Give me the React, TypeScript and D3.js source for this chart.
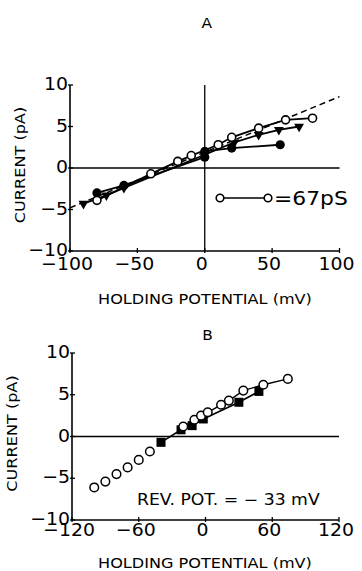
import React, { useEffect, useRef } from 'react';
import * as d3 from 'd3';

type Pt = [number, number];

// Panel A: current (pA) vs holding potential (mV)
const aOpenCircles: Pt[] = [[-80, -3.9], [-40, -0.7], [-20, 0.8], [-10, 1.5], [10, 2.8], [20, 3.7], [40, 4.8], [60, 5.8], [80, 6.0]];
const aFilledCircles: Pt[] = [[-80, -3.0], [-60, -2.1], [0, 1.3], [0, 2.0], [20, 2.4], [56, 2.8]];
const aTriangles: Pt[] = [[-90, -4.3], [-73, -3.3], [-60, -2.4], [0, 1.6], [22, 3.1], [40, 4.0], [55, 4.6], [70, 5.0]];
const aFitLine: Pt[] = [[-100, -4.8], [100, 8.6]];
const aXTicks = [-100, -50, 0, 50, 100];
const aYTicks = [-10, -5, 0, 5, 10];

// Panel B
const bOpenScattered: Pt[] = [[-100, -6.1], [-90, -5.4], [-80, -4.5], [-70, -3.7], [-60, -2.8], [-50, -1.8]];
const bOpenJoined: Pt[] = [[-20, 1.2], [-10, 2.0], [-4, 2.5], [2, 2.9], [14, 3.8], [21, 4.3], [34, 5.5], [52, 6.2], [74, 6.9]];
const bSquares: Pt[] = [[-40, -0.7], [-22, 0.8], [-12, 1.3], [-2, 2.1], [30, 4.1], [48, 5.4]];
const bXTicks = [-120, -60, 0, 60, 120];
const bYTicks = [-10, -5, 0, 5, 10];

const FONT = 'DejaVu Sans, Liberation Sans, sans-serif';
const STRETCH = 1.15; // the original lettering is wider than DejaVu
const fmt = (v: number) => (v < 0 ? '\u2212' + Math.abs(v) : String(v));

type G = d3.Selection<SVGGElement, unknown, null, undefined>;

// text stretched horizontally (optionally rotated) around its anchor point
function wideText(g: G, x: number, y: number, str: string, size: number, anchor = 'middle', rot = 0, sx = STRETCH) {
  return g.append('text')
    .attr('transform', `translate(${x},${y}) rotate(${rot}) scale(${sx},1)`)
    .attr('text-anchor', anchor)
    .attr('font-size', size)
    .text(str);
}

interface PanelCfg {
  title: string;
  titleY: number;
  xDomain: [number, number];
  xRange: [number, number];
  yRange: [number, number];
  xTicks: number[];
  yTicks: number[];
  xTickLabelY: number;
  xLabelY: number;
  yLabelX: number;
}

function drawAxes(g: G, c: PanelCfg) {
  const x = d3.scaleLinear().domain(c.xDomain).range(c.xRange);
  const y = d3.scaleLinear().domain([-10, 10]).range(c.yRange);

  wideText(g, x(0) + 2, c.titleY, c.title, 14, 'middle', 0, 1.1);

  // axes
  g.append('line')
    .attr('x1', c.xRange[0]).attr('x2', c.xRange[0])
    .attr('y1', y(10)).attr('y2', y(-10))
    .attr('stroke', '#000').attr('stroke-width', 1.6);
  g.append('line')
    .attr('x1', c.xRange[0]).attr('x2', c.xRange[1])
    .attr('y1', y(-10)).attr('y2', y(-10))
    .attr('stroke', '#000').attr('stroke-width', 1.6);
  // zero line
  g.append('line')
    .attr('x1', c.xRange[0]).attr('x2', c.xRange[1])
    .attr('y1', y(0)).attr('y2', y(0))
    .attr('stroke', '#000').attr('stroke-width', 1.6);

  g.selectAll('line.ytick').data(c.yTicks).enter().append('line')
    .attr('class', 'ytick')
    .attr('x1', c.xRange[0] - 2).attr('x2', c.xRange[0] + 3)
    .attr('y1', d => y(d)).attr('y2', d => y(d))
    .attr('stroke', '#000').attr('stroke-width', 1.3);
  g.selectAll('line.xtick').data(c.xTicks).enter().append('line')
    .attr('class', 'xtick')
    .attr('x1', d => x(d)).attr('x2', d => x(d))
    .attr('y1', y(-10) - 3).attr('y2', y(-10) + 2)
    .attr('stroke', '#000').attr('stroke-width', 1.3);

  c.yTicks.forEach(t => wideText(g, c.xRange[0] - 2, y(t) + 5, fmt(t), 18, 'end', 0, 1.05));
  c.xTicks.forEach(t => wideText(g, x(t) - 3, c.xTickLabelY, fmt(t), 18, 'middle', 0, 1.05));

  wideText(g, 205, c.xLabelY, 'HOLDING POTENTIAL (mV)', 14);
  wideText(g, c.yLabelX, y(0) - 3, 'CURRENT (pA)', 14, 'middle', -90);

  return { x, y };
}

const App: React.FC = () => {
  const svgRef = useRef<SVGSVGElement | null>(null);

  useEffect(() => {
    if (!svgRef.current) return;
    const svg = d3.select(svgRef.current);
    svg.selectAll('*').remove();
    const root = svg.append('g').attr('font-family', FONT).attr('fill', '#000');

    // ---------- Panel A ----------
    const gA = root.append('g');
    const { x: xA, y: yA } = drawAxes(gA, {
      title: 'A', titleY: 28,
      xDomain: [-100, 100], xRange: [70, 339.5], yRange: [251, 85],
      xTicks: aXTicks, yTicks: aYTicks,
      xTickLabelY: 270, xLabelY: 304, yLabelX: 25,
    });
    // vertical line at 0 mV
    gA.append('line')
      .attr('x1', xA(0)).attr('x2', xA(0))
      .attr('y1', yA(10)).attr('y2', yA(-10))
      .attr('stroke', '#000').attr('stroke-width', 1.3);

    const lineA = d3.line<Pt>().x(d => xA(d[0])).y(d => yA(d[1]));
    gA.append('path').attr('d', lineA(aFitLine))
      .attr('fill', 'none').attr('stroke', '#000').attr('stroke-width', 1.5)
      .attr('stroke-dasharray', '6,4');
    gA.append('path').attr('d', lineA(aOpenCircles))
      .attr('fill', 'none').attr('stroke', '#000').attr('stroke-width', 1.8);
    gA.append('path').attr('d', lineA(aTriangles))
      .attr('fill', 'none').attr('stroke', '#000').attr('stroke-width', 1.8);
    gA.append('path').attr('d', lineA(aFilledCircles))
      .attr('fill', 'none').attr('stroke', '#000').attr('stroke-width', 1.8);

    const tri = d3.symbol().type(d3.symbolTriangle).size(42);
    gA.selectAll('path.tri').data(aTriangles).enter().append('path')
      .attr('class', 'tri')
      .attr('d', tri)
      .attr('transform', d => `translate(${xA(d[0])},${yA(d[1])}) rotate(180)`)
      .attr('fill', '#000');
    gA.selectAll('circle.fc').data(aFilledCircles).enter().append('circle')
      .attr('class', 'fc')
      .attr('cx', d => xA(d[0])).attr('cy', d => yA(d[1])).attr('r', 4.6)
      .attr('fill', '#000');
    gA.selectAll('circle.oc').data(aOpenCircles).enter().append('circle')
      .attr('class', 'oc')
      .attr('cx', d => xA(d[0])).attr('cy', d => yA(d[1])).attr('r', 4)
      .attr('fill', '#fff').attr('stroke', '#000').attr('stroke-width', 1.6);

    // legend
    gA.append('line')
      .attr('x1', 220).attr('x2', 268).attr('y1', 198).attr('y2', 198)
      .attr('stroke', '#000').attr('stroke-width', 1.4);
    gA.selectAll('circle.leg').data([220, 268]).enter().append('circle')
      .attr('class', 'leg')
      .attr('cx', d => d).attr('cy', 198).attr('r', 3.8)
      .attr('fill', '#fff').attr('stroke', '#000').attr('stroke-width', 1.6);
    wideText(gA, 274, 205, '=67pS', 19, 'start');

    // ---------- Panel B ----------
    const gB = root.append('g');
    const { x: xB, y: yB } = drawAxes(gB, {
      title: 'B', titleY: 340,
      xDomain: [-120, 120], xRange: [72, 339], yRange: [520, 353],
      xTicks: bXTicks, yTicks: bYTicks,
      xTickLabelY: 536, xLabelY: 568, yLabelX: 17,
    });
    const lineB = d3.line<Pt>().x(d => xB(d[0])).y(d => yB(d[1]));
    gB.append('path').attr('d', lineB(bOpenJoined))
      .attr('fill', 'none').attr('stroke', '#000').attr('stroke-width', 1.4);
    gB.append('path').attr('d', lineB(bSquares))
      .attr('fill', 'none').attr('stroke', '#000').attr('stroke-width', 1.6);

    gB.selectAll('rect.sq').data(bSquares).enter().append('rect')
      .attr('class', 'sq')
      .attr('x', d => xB(d[0]) - 4.5).attr('y', d => yB(d[1]) - 4.5)
      .attr('width', 9).attr('height', 9)
      .attr('fill', '#000');
    gB.selectAll('circle.oc').data([...bOpenScattered, ...bOpenJoined]).enter().append('circle')
      .attr('class', 'oc')
      .attr('cx', d => xB(d[0])).attr('cy', d => yB(d[1])).attr('r', 4.3)
      .attr('fill', '#fff').attr('stroke', '#000').attr('stroke-width', 1.5);

    wideText(gB, 137, 505, 'REV. POT. = \u2212 33 mV', 15, 'start');
  }, []);

  return (
    <svg
      ref={svgRef}
      width={362}
      height={571}
      style={{ position: 'absolute', left: 0, top: 0, background: '#fff', display: 'block' }}
    />
  );
};

export default App;
